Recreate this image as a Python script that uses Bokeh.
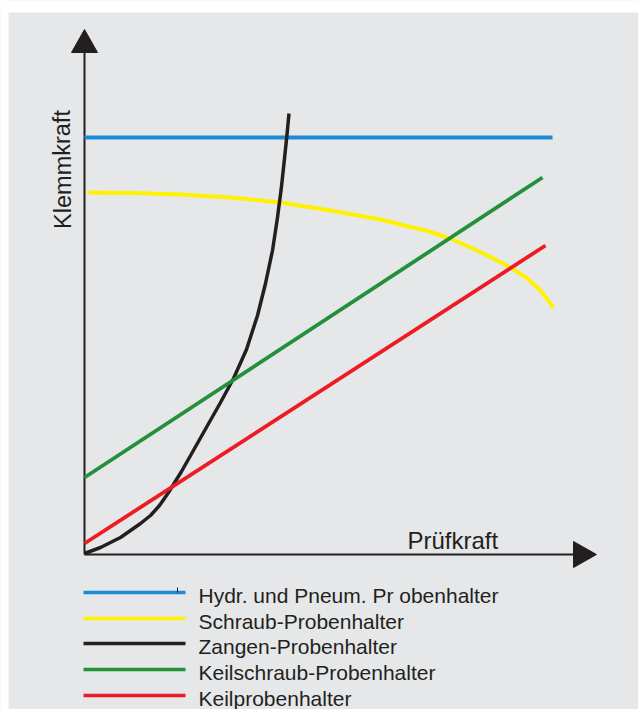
from bokeh.plotting import figure
from bokeh.models import Range1d
from bokeh.embed import file_html
from bokeh.resources import INLINE
from bokeh.core.properties import value

# ---- data (chart units: origin at the axes' crossing) ----
hydr_x = [0, 468]
hydr_y = [417, 417]

schraub_x = [3, 50, 96, 146, 196, 246, 296, 316, 341, 366, 399, 426, 443, 456, 469]
schraub_y = [362, 361.5, 360, 357, 352, 344, 335, 330, 324, 316, 301, 287, 276, 264, 247]

zangen_x = [0, 16, 36, 56, 66, 75, 84, 97, 110, 123, 136, 149, 162, 173, 181, 188, 193, 197, 200, 202.5, 204.5]
zangen_y = [1, 7, 17, 31, 39, 49, 62, 83, 106, 129, 152, 176, 205, 239, 271, 304, 337, 368, 396, 420, 441]

keilschraub_x = [0, 458]
keilschraub_y = [77, 377]

keil_x = [0, 461]
keil_y = [11, 309]

series_names = ["Hydr. und Pneum. Pr obenhalter", "Schraub-Probenhalter",
                "Zangen-Probenhalter", "Keilschraub-Probenhalter", "Keilprobenhalter"]
series_colors = ["#1b8bd3", "#fff200", "#231f20", "#23913a", "#ed1c24"]

x_label = "Prüfkraft"
y_label = "Klemmkraft"

FONT = value("Liberation Sans")
TXT = "#231f20"

p = figure(width=638, height=709, x_range=Range1d(-84, 554), y_range=Range1d(-155, 554),
           output_backend="svg", toolbar_location=None, x_axis_type=None, y_axis_type=None,
           min_border=0, min_border_left=0, min_border_right=0, min_border_top=0,
           min_border_bottom=0)
p.grid.visible = False
p.outline_line_color = None
p.background_fill_color = "#e6e7e8"
p.border_fill_color = "white"

# white margins around the grey panel
p.quad(left=-90, right=560, bottom=542, top=560, fill_color="white", line_color=None)
p.quad(left=-90, right=-76, bottom=-160, top=560, fill_color="white", line_color=None)

# axes
p.segment(x0=[0, 0], y0=[0, 0], x1=[0, 490], y1=[503, 0], line_color=TXT, line_width=2)
p.patch(x=[-13, 13, 0], y=[502, 502, 525], fill_color=TXT, line_color=TXT)
p.patch(x=[489, 489, 512], y=[13, -13, 0], fill_color=TXT, line_color=TXT)

p.text(x=[323], y=[14], text=[x_label], text_font=FONT, text_font_size="24px",
       text_color=TXT, text_align="left", text_baseline="alphabetic")
p.text(x=[-22], y=[385], text=[y_label], text_font=FONT, text_font_size="23.5px",
       text_color=TXT, text_align="center", text_baseline="alphabetic", angle=1.5708)

# curves
xs = [hydr_x, schraub_x, zangen_x, keilschraub_x, keil_x]
ys = [hydr_y, schraub_y, zangen_y, keilschraub_y, keil_y]
widths = [3.8, 4.0, 3.5, 3.8, 3.8]
for sx, sy, c, w in zip(xs, ys, series_colors, widths):
    p.line(sx, sy, line_color=c, line_width=w, line_join="round")

# legend
leg_y = [-38, -64, -89, -115, -141]
p.segment(x0=[-1] * 5, y0=leg_y, x1=[101] * 5, y1=leg_y, line_color=series_colors, line_width=3.5)
p.segment(x0=[93], y0=[-33], x1=[93], y1=[-38], line_color=TXT, line_width=1)
p.text(x=[114] * 5, y=leg_y, text=series_names, text_font=FONT, text_font_size="21px",
       text_color=TXT, text_align="left", text_baseline="alphabetic", y_offset=2.5)

open("out.html", "w").write(file_html(p, INLINE))
